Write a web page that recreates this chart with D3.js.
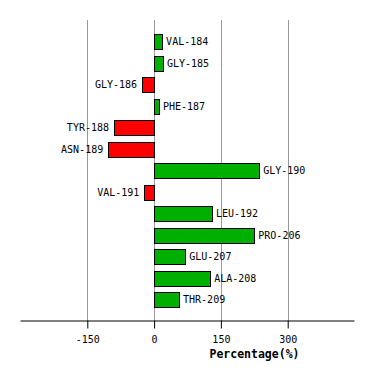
<!DOCTYPE html>
<html><head><meta charset="utf-8">
<script src="https://cdn.jsdelivr.net/npm/d3@7"></script>
<style>body{margin:0;background:#fff}svg{display:block}</style>
</head><body>
<svg id="c" width="374" height="381"></svg>
<script>
const residues = ["VAL-184","GLY-185","GLY-186","PHE-187","TYR-188","ASN-189","GLY-190","VAL-191","LEU-192","PRO-206","GLU-207","ALA-208","THR-209"];
const values = [18, 20, -27, 11, -90, -103, 236, -22, 130, 225, 70, 126, 56];
const tickValues = [-150, 0, 150, 300];
const axisTitle = "Percentage(%)";

const svg = d3.select("#c");
const font = "'DejaVu Sans Mono', monospace";
const x = d3.scaleLinear().domain([-300, 450]).range([20.5, 354.5]);
const y = d3.scaleBand().domain(residues).range([31, 310.5]).paddingInner(0.3).paddingOuter(0.15);
const axisY = 320.5;

// grid
svg.append("g").selectAll("line").data(tickValues).join("line")
  .attr("x1", d => Math.round(x(d)) + 0.5).attr("x2", d => Math.round(x(d)) + 0.5)
  .attr("y1", 20).attr("y2", axisY)
  .attr("stroke", "#999").attr("stroke-width", 1);

// bars
const data = residues.map((r, i) => ({r, v: values[i]}));
svg.append("g").selectAll("rect").data(data).join("rect")
  .attr("x", d => Math.round(x(Math.min(0, d.v))) + 0.5)
  .attr("y", d => Math.round(y(d.r)) + 0.5)
  .attr("width", d => Math.round(Math.abs(x(d.v) - x(0))))
  .attr("height", 15)
  .attr("fill", d => d.v >= 0 ? "#00b000" : "#ff0000")
  .attr("stroke", "#000").attr("stroke-width", 1);

// labels
svg.append("g").selectAll("text").data(data).join("text")
  .attr("x", d => d.v >= 0 ? x(d.v) + 4 : x(d.v) - 5)
  .attr("y", d => y(d.r) + 7.5)
  .attr("dy", "0.35em")
  .attr("text-anchor", d => d.v >= 0 ? "start" : "end")
  .attr("font-family", font).attr("font-size", "10px").attr("fill", "#000")
  .text(d => d.r);

// axis
const ax = svg.append("g").attr("transform", `translate(0,${axisY})`)
  .call(d3.axisBottom(x).tickValues(tickValues).tickSize(8).tickPadding(7).tickFormat(d => String(d)));
ax.select(".domain").attr("d", `M${x.range()[0]},0.5H${x.range()[1]}`).attr("stroke", "#000");
ax.selectAll(".tick line").attr("stroke", "#000");
ax.selectAll(".tick text").attr("font-family", font).attr("font-size", "10px").attr("fill", "#000");

svg.append("text")
  .attr("x", 254.5).attr("y", 358)
  .attr("text-anchor", "middle")
  .attr("font-family", font).attr("font-size", "11.5px").attr("font-weight", "bold")
  .text(axisTitle);
</script>
</body></html>
